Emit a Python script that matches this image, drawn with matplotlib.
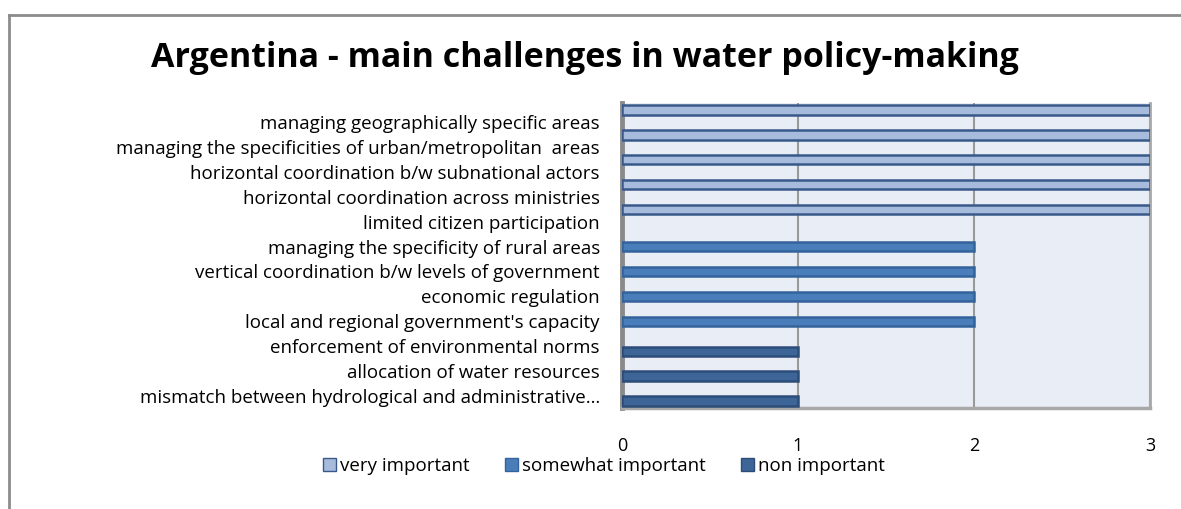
import matplotlib
matplotlib.use("Agg")
import matplotlib.pyplot as plt
from matplotlib.patches import Patch
from matplotlib.lines import Line2D

plt.rcParams['font.family'] = ['Open Sans', 'DejaVu Sans']

categories = [
    "managing geographically specific areas",
    "managing the specificities of urban/metropolitan  areas",
    "horizontal coordination b/w subnational actors",
    "horizontal coordination across ministries",
    "limited citizen participation",
    "managing the specificity of rural areas",
    "vertical coordination b/w levels of government",
    "economic regulation",
    "local and regional government's capacity",
    "enforcement of environmental norms",
    "allocation of water resources",
    "mismatch between hydrological and administrative\u2026",
]
very_important     = [3, 3, 3, 3, 3, 0, 0, 0, 0, 0, 0, 0]
somewhat_important = [0, 0, 0, 0, 0, 2, 2, 2, 2, 0, 0, 0]
non_important      = [0, 0, 0, 0, 0, 0, 0, 0, 0, 1, 1, 1]
series_names = ["very important", "somewhat important", "non important"]
xticks = [0, 1, 2, 3]

fills = ["#a7bbdc", "#4a7ebb", "#3d6598"]
edges = ["#38598a", "#34639c", "#2d4d78"]
offsets = [0.48, 0.0, -0.2]

W, H = 1181, 509
fig = plt.figure(figsize=(W/100, H/100), dpi=100)
fig.patch.set_facecolor("white")

# outer frame
fig.add_artist(Line2D([9/W, 9/W], [0, 1-15/H], transform=fig.transFigure, color="#8c8c8c", lw=2))
fig.add_artist(Line2D([9/W, 1], [1-15/H, 1-15/H], transform=fig.transFigure, color="#8c8c8c", lw=2))

ax = fig.add_axes([622/W, 1-408/H, (1150-622)/W, (408-103)/H])
ax.set_facecolor("#e9edf6")
n = len(categories)
ypos = [n-1-i for i in range(n)]

for s, vals in enumerate([very_important, somewhat_important, non_important]):
    ys = [ypos[i] + offsets[s] for i in range(n) if vals[i] > 0]
    ws = [vals[i] for i in range(n) if vals[i] > 0]
    ax.barh(ys, ws, height=0.37, color=fills[s], edgecolor=edges[s], linewidth=1.8, zorder=3)

ax.set_xlim(0, 3)
ax.set_ylim(-0.48, n-1+0.76)
ax.set_xticks(xticks)
ax.set_xticklabels([str(t) for t in xticks], fontsize=13)
ax.set_yticks(ypos)
ax.set_yticklabels(categories, fontsize=13.5)
ax.tick_params(axis='x', length=0, pad=21)
ax.tick_params(axis='y', length=0, pad=16)
for xv in xticks[1:]:
    ax.axvline(xv, color="#9a9a9a", lw=1.5, zorder=1)
ax.spines['top'].set_visible(False)
ax.spines['left'].set_color("#8a8a8a")
ax.spines['left'].set_linewidth(3.5)
ax.spines['bottom'].set_color("#a8a8a8")
ax.spines['bottom'].set_linewidth(2.5)
ax.spines['right'].set_color("#a8a8a8")
ax.spines['right'].set_linewidth(2)

fig.text(585/W, 1-58/H, "Argentina - main challenges in water policy-making",
         ha="center", va="center", fontsize=24.5, fontweight="bold")

handles = [Patch(facecolor=fills[s], edgecolor=edges[s], linewidth=1) for s in range(3)]
fig.legend(handles, series_names, loc="center", bbox_to_anchor=(604/W, 1-466/H), ncol=3,
           frameon=False, fontsize=13.5, handlelength=0.7, handleheight=0.7,
           handletextpad=0.2, columnspacing=1.9, borderpad=0.1)

fig.savefig("out.png", dpi=100)
